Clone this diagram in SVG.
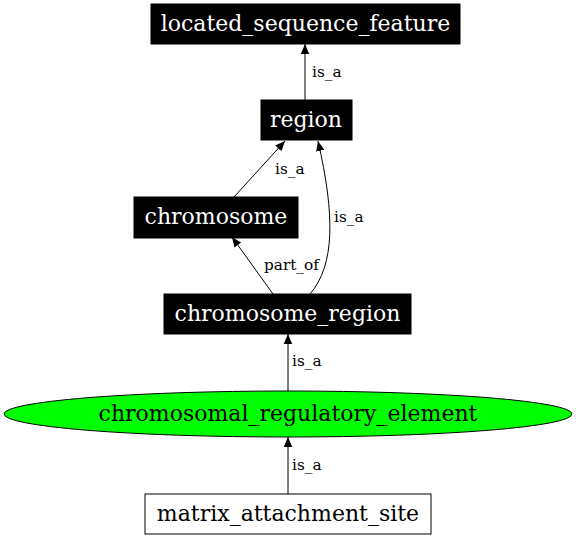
<svg xmlns="http://www.w3.org/2000/svg" width="576" height="539" viewBox="0 0 576 539">
<defs>
<marker id="ah" markerWidth="10" markerHeight="10" refX="10" refY="5" orient="auto" markerUnits="userSpaceOnUse">
<path d="M0,0.8 L10,5 L0,9.2 Z" fill="#000"/>
</marker>
<style>
.n{font-family:"DejaVu Serif","Liberation Serif",serif;font-size:22px;text-anchor:middle}
.w{fill:#fff}
.l{font-family:"DejaVu Serif","Liberation Serif",serif;font-size:15.3px}
.e{fill:none;stroke:#000;stroke-width:1;marker-end:url(#ah)}
</style>
</defs>
<rect width="576" height="539" fill="#fff"/>
<g id="connectors">
<path class="e" d="M305,100 L305,44"/>
<text class="l" x="312" y="77">is_a</text>
<path class="e" d="M234,197 L285,141"/>
<text class="l" x="275" y="174">is_a</text>
<path class="e" d="M310,294 C335,265 335,215 318,141"/>
<text class="l" x="334" y="222">is_a</text>
<path class="e" d="M273,294 L232,237"/>
<text class="l" x="264" y="270">part_of</text>
<path class="e" d="M288,391 L288,334"/>
<text class="l" x="292" y="366">is_a</text>
<path class="e" d="M288,494 L288,437"/>
<text class="l" x="292" y="470">is_a</text>
</g>
<g id="located_sequence_feature">
<rect x="151" y="4" width="309" height="40" fill="#000" stroke="#000"/>
<text class="n w" x="305.5" y="31">located_sequence_feature</text>
</g>
<g id="region">
<rect x="261" y="100" width="91" height="40" fill="#000" stroke="#000"/>
<text class="n w" x="306" y="127">region</text>
</g>
<g id="chromosome">
<rect x="134" y="197" width="164" height="41" fill="#000" stroke="#000"/>
<text class="n w" x="216" y="224">chromosome</text>
</g>
<g id="chromosome_region">
<rect x="164" y="294" width="247" height="40" fill="#000" stroke="#000"/>
<text class="n w" x="287.5" y="321">chromosome_region</text>
</g>
<g id="chromosomal_regulatory_element">
<ellipse cx="288" cy="414" rx="284" ry="23" fill="#00ff00" stroke="#000"/>
<text class="n" x="288" y="421">chromosomal_regulatory_element</text>
</g>
<g id="matrix_attachment_site">
<rect x="145" y="494" width="286" height="40" fill="#fff" stroke="#000"/>
<text class="n" x="288" y="521">matrix_attachment_site</text>
</g>
</svg>
